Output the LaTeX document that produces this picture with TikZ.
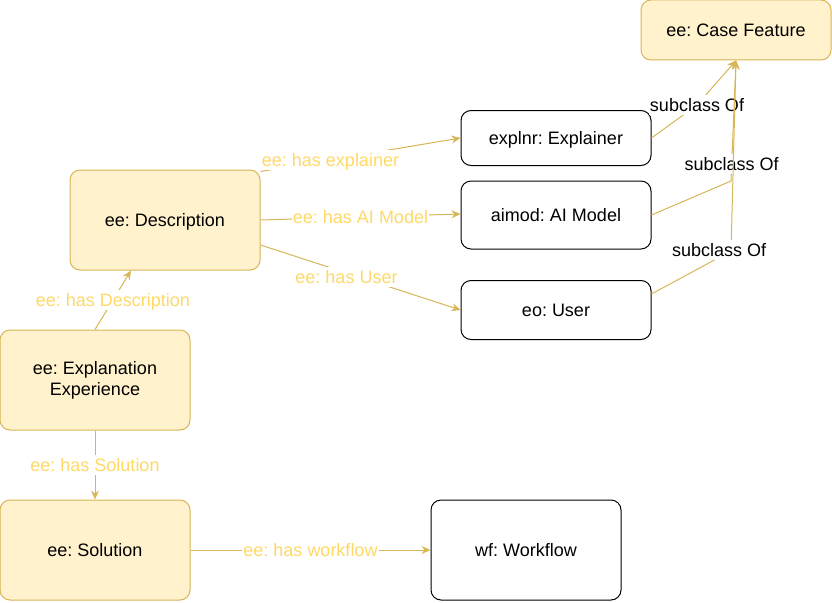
\documentclass[tikz,border=0pt]{standalone}
\usepackage{xcolor}
\usepackage{fontspec}
\setmainfont{Liberation Sans}
\usepackage{tikz}
\usetikzlibrary{arrows.meta}
\frenchspacing

\definecolor{caseFill}{HTML}{FFF2CC}
\definecolor{caseLine}{HTML}{D6B656}
\definecolor{relText}{HTML}{FFD966}

\begin{document}
\begin{tikzpicture}[x=1pt, y=-1pt, every node/.style={font=\fontsize{18}{21}\selectfont, text height=15.5pt, text depth=2.5pt}]

% Define styles for boxes and relations
\tikzstyle{eebox} = [draw=caseLine, fill=caseFill, line width=1pt, rounded corners=10pt, minimum width=190pt, align=center]
\tikzstyle{extbox} = [draw=black, fill=white, line width=1pt, rounded corners=10pt, minimum width=190pt, align=center]
\tikzstyle{rel} = [draw=caseLine, line width=1pt, -{Stealth[length=9pt, width=8pt, inset=3pt]}]
\tikzstyle{rellabel} = [fill=white, text=relText, inner sep=1pt]
\tikzstyle{sublabel} = [fill=white, text=black, inner sep=1pt]

\useasboundingbox (0,0) rectangle (832,602);

% Class boxes
\node[eebox, minimum height=60pt] (casef) at (736,30) {ee: Case Feature};
\node[eebox, minimum height=100pt] (desc) at (165,220) {ee: Description};
\node[eebox, minimum height=100pt, text height=, text depth=] (expexp) at (95,380) {ee: Explanation\\Experience};
\node[eebox, minimum height=100pt] (sol) at (95,550) {ee: Solution};

% Linked classes
\node[extbox, minimum height=55pt] (explnr) at (556,138) {explnr: Explainer};
\node[extbox, minimum height=68pt] (aimod) at (556,215) {aimod: AI Model};
\node[extbox, minimum height=59pt] (user) at (556,310) {eo: User};
\node[extbox, minimum height=100pt] (wf) at (526,550) {wf: Workflow};

% Properties of the experience
\draw[rel] (expexp.north) -- node[rellabel] {ee: has Description} (131,270.5);
\draw[rel] (expexp) -- node[rellabel] {ee: has Solution} (sol);
\draw[rel] (sol) -- node[rellabel] {ee: has workflow} (wf);

% Properties of the description
\draw[rel] (desc.north east) ++(0,2) -- node[rellabel, pos=0.35] {ee: has explainer} (explnr.west);
\draw[rel] (desc.east) -- node[rellabel] {ee: has AI Model} (aimod.west |- 0,214);
\draw[rel] (desc.east) ++(0,25) -- node[rellabel, pos=0.43, yshift=-4pt] {ee: has User} (user.west);

% subclass Of
\draw[rel] (explnr.east) -- (697,105) node[sublabel] {subclass Of} -- (casef.south);
\draw[rel] (aimod.east) -- (731,181) -- node[sublabel, pos=0.14] {subclass Of} (casef.south);
\draw[rel] (user.east |- 0,294) -- node[sublabel, pos=0.85, yshift=7pt] {subclass Of} (731,251) -- (casef.south);

\end{tikzpicture}
\end{document}
